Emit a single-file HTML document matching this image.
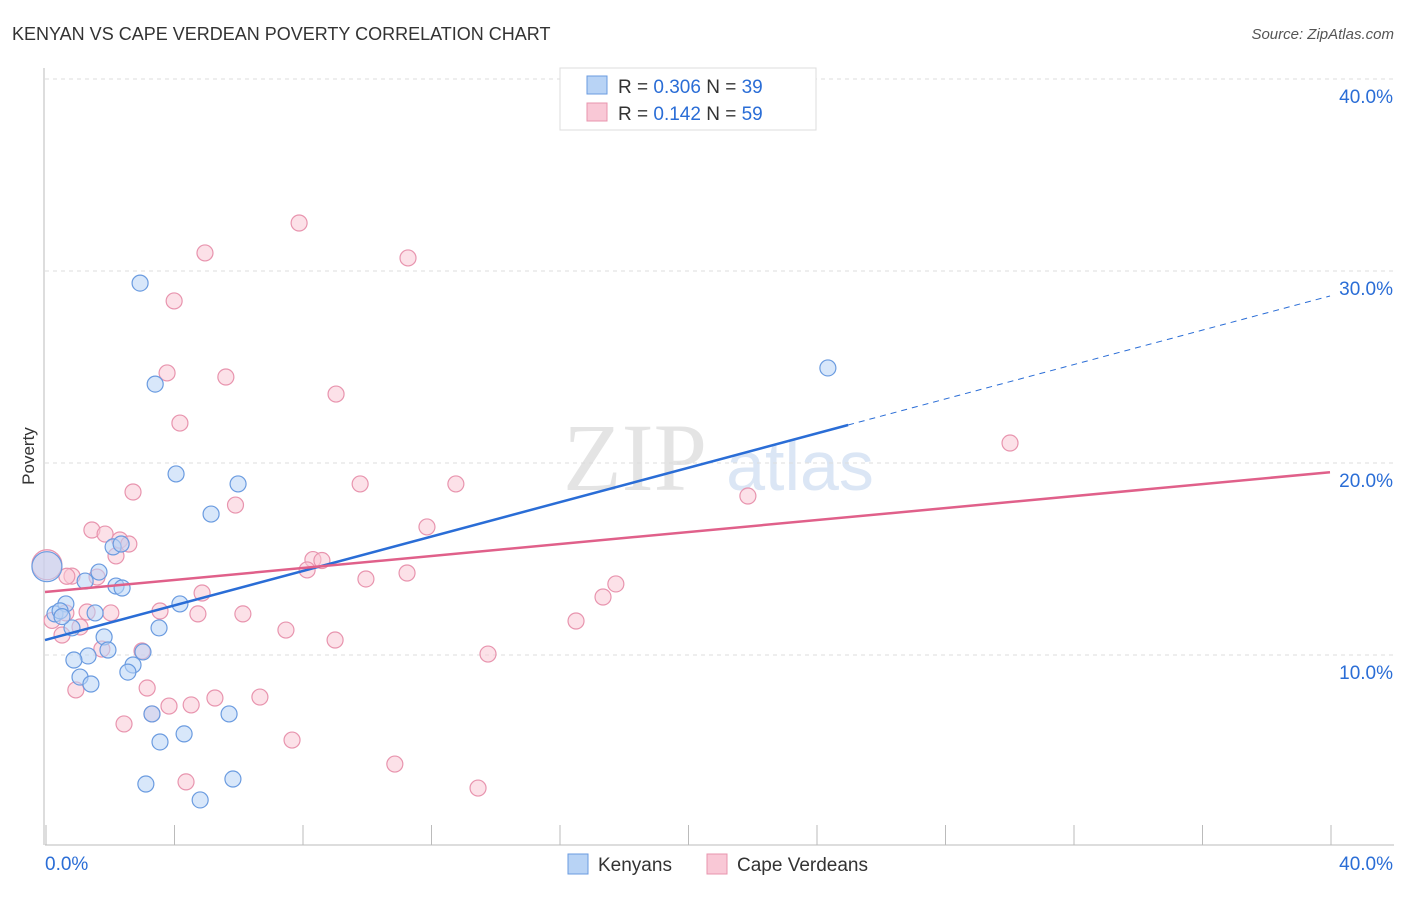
<!DOCTYPE html>
<html><head><meta charset="utf-8"><style>
body{margin:0;background:#fff;font-family:"Liberation Sans",sans-serif}
</style></head><body>
<svg id="c" width="1406" height="892" xmlns="http://www.w3.org/2000/svg">
<text x="12" y="40" font-size="18" fill="#333">KENYAN VS CAPE VERDEAN POVERTY CORRELATION CHART</text>
<text x="1394" y="39" font-size="15" fill="#555" font-style="italic" text-anchor="end">Source: ZipAtlas.com</text>
<text x="635" y="490" font-size="96" fill="#e4e4e4" font-family="Liberation Serif" text-anchor="middle">ZIP</text>
<text x="800" y="490" font-size="70" fill="#dbe6f5" text-anchor="middle">atlas</text>
<text x="34" y="456" font-size="17" fill="#333" text-anchor="middle" transform="rotate(-90 34 456)">Poverty</text>
<g id="grid"></g><g id="pts"></g><g id="lines"></g>
<g>
<rect x="560" y="68" width="256" height="62" fill="#fff" stroke="#ddd"/>
<rect x="587" y="76" width="20" height="18" fill="#b8d3f5" stroke="#6a9be0"/>
<rect x="587" y="103" width="20" height="18" fill="#f9c8d6" stroke="#e894ae"/>
<text x="618" y="93" font-size="19" fill="#333">R = <tspan fill="#2a6dd6">0.306</tspan>   N = <tspan fill="#2a6dd6">39</tspan></text>
<text x="618" y="120" font-size="19" fill="#333">R =  <tspan fill="#2a6dd6">0.142</tspan>   N = <tspan fill="#2a6dd6">59</tspan></text>
</g>
<g>
<rect x="568" y="854" width="20" height="20" fill="#b8d3f5" stroke="#6a9be0"/>
<text x="598" y="871" font-size="19" fill="#333">Kenyans</text>
<rect x="707" y="854" width="20" height="20" fill="#f9c8d6" stroke="#e894ae"/>
<text x="737" y="871" font-size="19" fill="#333">Cape Verdeans</text>
</g>
</svg>
<script>
const yTicks=[10,20,30,40];
const xTickLabels=["0.0%","40.0%"];
const blueX=[2.96,3.43,4.08,6.01,5.17,24.37,2.12,2.37,1.68,1.25,2.21,2.40,0.31,0.65,1.56,4.20,3.55,0.84,1.84,1.34,0.90,1.96,3.05,2.74,2.58,1.09,1.43,3.33,5.73,4.33,3.58,5.85,3.14,4.83,0.06,0.47,0.53];
const blueY=[29.37,24.11,19.43,18.91,17.34,24.95,15.63,15.78,14.32,13.85,13.59,13.49,12.14,12.66,12.19,12.66,11.41,11.41,10.94,9.95,9.74,10.26,10.16,9.48,9.11,8.85,8.49,6.93,6.93,5.89,5.47,3.54,3.28,2.45,14.6,12.3,12.0];
const pinkX=[7.91,4.98,11.30,4.02,3.80,5.63,9.06,4.20,30.04,2.74,9.81,12.79,21.88,5.93,1.46,1.87,2.33,2.61,2.21,11.89,8.34,8.62,8.16,9.99,11.27,17.77,17.37,0.84,1.62,4.89,3.58,4.76,6.16,2.05,1.31,0.65,7.50,9.03,16.53,13.79,1.77,3.02,0.53,1.09,3.18,0.96,6.69,5.29,3.86,4.55,3.33,2.46,7.69,4.39,10.89,13.48,0.06,0.68,0.22];
const pinkY=[32.50,30.94,30.68,28.44,24.69,24.48,23.59,22.08,21.04,18.49,18.91,18.91,18.28,17.81,16.51,16.30,15.99,15.78,15.16,16.67,14.97,14.92,14.43,13.96,14.27,13.70,13.02,14.11,14.06,13.23,12.29,12.14,12.14,12.19,12.24,12.19,11.30,10.78,11.77,10.05,10.31,10.21,11.04,11.46,8.28,8.18,7.81,7.76,7.34,7.40,6.93,6.41,5.57,3.39,4.32,3.07,14.7,14.1,11.8];
const blueLine=[10.78,0.448];
const pinkLine=[13.28,0.156];
const X=v=>45+v*32.125, Y=v=>847-v*19.2;
const NS="http://www.w3.org/2000/svg";
function mk(t,a,p){const e=document.createElementNS(NS,t);for(const k in a)e.setAttribute(k,a[k]);p.appendChild(e);return e;}
const g=document.getElementById('grid');
mk('line',{x1:45,y1:Y(0)-2,x2:1394,y2:Y(0)-2,stroke:'#bbb'},g);
mk('line',{x1:44,y1:68,x2:44,y2:Y(0)-2,stroke:'#bbb'},g);
for(let i=0;i<=10;i++){mk('line',{x1:X(i*4)+1,y1:Y(0)-2,x2:X(i*4)+1,y2:Y(0)-22,stroke:'#bbb'},g);}
yTicks.forEach(t=>{
 const l=mk('line',{x1:45,y1:Y(t),x2:1394,y2:Y(t),stroke:'#ddd','stroke-dasharray':'4 4'},g);
 
 
 const tx=mk('text',{x:1393,y:Y(t)+24,'font-size':19,fill:'#2a6dd6','text-anchor':'end'},g);
 tx.textContent=t.toFixed(1)+'%';
 
 
});
const t0=mk('text',{x:45,y:870,'font-size':19,fill:'#2a6dd6'},g);t0.textContent=xTickLabels[0];


const t1=mk('text',{x:1393,y:870,'font-size':19,fill:'#2a6dd6','text-anchor':'end'},g);t1.textContent=xTickLabels[1];


const P=document.getElementById('pts');
pinkX.forEach((x,i)=>{const c=mk('circle',{cx:X(x),cy:Y(pinkY[i]),r:i==56?15:8,fill:'#f9c8d6','fill-opacity':0.55,stroke:'#e894ae','stroke-width':1.2},P);
 
 });
blueX.forEach((x,i)=>{const c=mk('circle',{cx:X(x),cy:Y(blueY[i]),r:i==34?15:8,fill:'#b8d3f5','fill-opacity':0.55,stroke:'#6a9be0','stroke-width':1.2},P);
 
 });
const L=document.getElementById('lines');
const bl=mk('line',{x1:X(0),y1:Y(blueLine[0]),x2:X(25),y2:Y(blueLine[0]+25*blueLine[1]),stroke:'#2a6dd6','stroke-width':2.5},L);


const bd=mk('line',{x1:X(25),y1:Y(blueLine[0]+25*blueLine[1]),x2:X(40),y2:Y(blueLine[0]+40*blueLine[1]),stroke:'#2a6dd6','stroke-width':1,'stroke-dasharray':'6 5'},L);


const pl=mk('line',{x1:X(0),y1:Y(pinkLine[0]),x2:X(40),y2:Y(pinkLine[0]+40*pinkLine[1]),stroke:'#e0608a','stroke-width':2.5},L);


</script>
</body></html>
